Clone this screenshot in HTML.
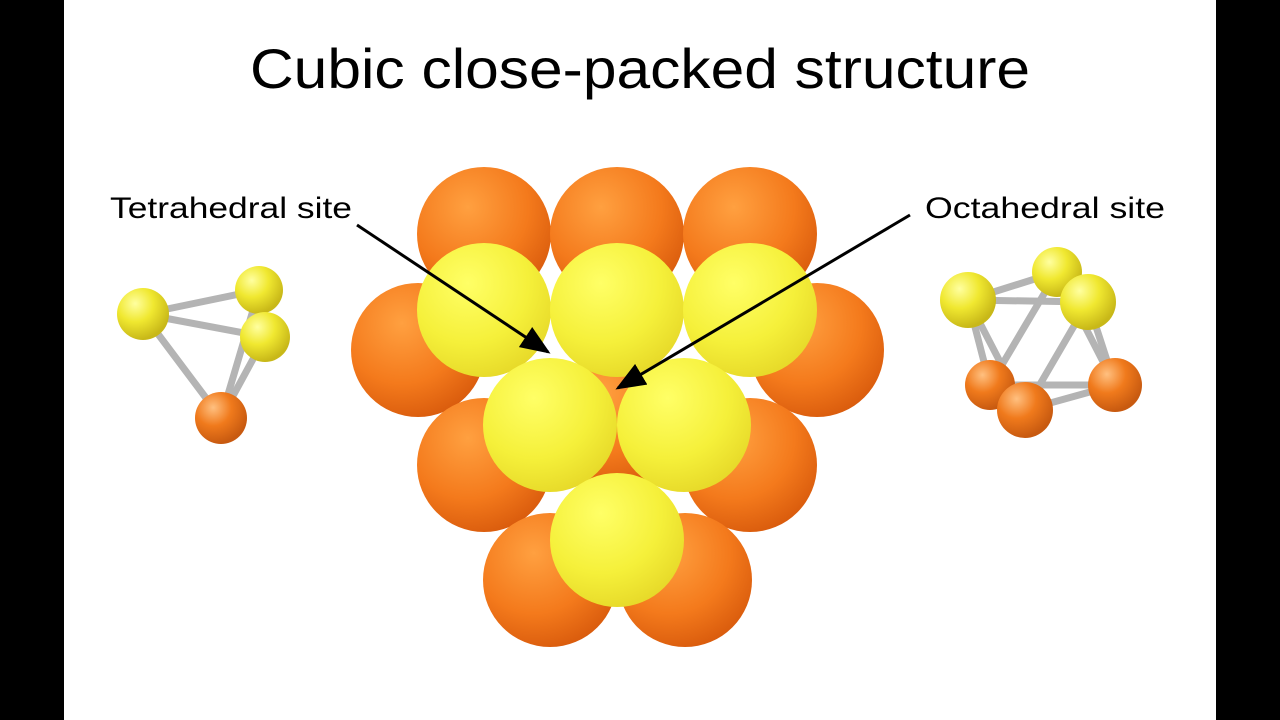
<!DOCTYPE html>
<html><head><meta charset="utf-8"><style>
html,body{margin:0;padding:0;background:#000;}
svg{display:block}
</style></head><body>
<svg width="1280" height="720" viewBox="0 0 1280 720" xmlns="http://www.w3.org/2000/svg">
<defs>
<radialGradient id="og" cx="0.38" cy="0.3" r="0.75">
<stop offset="0" stop-color="#ffa040"/><stop offset="0.6" stop-color="#f47a1c"/><stop offset="1" stop-color="#d85a0c"/></radialGradient>
<radialGradient id="yg" cx="0.38" cy="0.3" r="0.75">
<stop offset="0" stop-color="#ffff66"/><stop offset="0.6" stop-color="#f5f03a"/><stop offset="1" stop-color="#e6d828"/></radialGradient>
<radialGradient id="ogs" cx="0.35" cy="0.3" r="0.7">
<stop offset="0" stop-color="#ffc080"/><stop offset="0.5" stop-color="#f07a1c"/><stop offset="1" stop-color="#c85a10"/></radialGradient>
<radialGradient id="ygs" cx="0.35" cy="0.3" r="0.7">
<stop offset="0" stop-color="#ffffa0"/><stop offset="0.5" stop-color="#f0e830"/><stop offset="1" stop-color="#c8b818"/></radialGradient>
<marker id="ah" markerWidth="10" markerHeight="8" refX="9" refY="4" orient="auto"><path d="M0,0 L10,4 L0,8 z" fill="#000"/></marker>
</defs>
<rect x="64" y="0" width="1152" height="720" fill="#fff"/>
<text x="250" y="88" textLength="780" lengthAdjust="spacingAndGlyphs" font-family="Liberation Sans, sans-serif" font-size="56">Cubic close-packed structure</text>
<g>
<circle cx="484" cy="234" r="67" fill="url(#og)"/>
<circle cx="617" cy="234" r="67" fill="url(#og)"/>
<circle cx="750" cy="234" r="67" fill="url(#og)"/>
<circle cx="418" cy="350" r="67" fill="url(#og)"/>
<circle cx="817" cy="350" r="67" fill="url(#og)"/>
<circle cx="617" cy="420" r="67" fill="url(#og)"/>
<circle cx="484" cy="465" r="67" fill="url(#og)"/>
<circle cx="750" cy="465" r="67" fill="url(#og)"/>
<circle cx="550" cy="580" r="67" fill="url(#og)"/>
<circle cx="685" cy="580" r="67" fill="url(#og)"/>
<circle cx="484" cy="310" r="67" fill="url(#yg)"/>
<circle cx="617" cy="310" r="67" fill="url(#yg)"/>
<circle cx="750" cy="310" r="67" fill="url(#yg)"/>
<circle cx="550" cy="425" r="67" fill="url(#yg)"/>
<circle cx="684" cy="425" r="67" fill="url(#yg)"/>
<circle cx="617" cy="540" r="67" fill="url(#yg)"/>
</g>
<text x="110" y="218" textLength="242" lengthAdjust="spacingAndGlyphs" font-family="Liberation Sans, sans-serif" font-size="30">Tetrahedral site</text>
<text x="925" y="218" textLength="240" lengthAdjust="spacingAndGlyphs" font-family="Liberation Sans, sans-serif" font-size="30">Octahedral site</text>
<line x1="357" y1="225" x2="548" y2="352" stroke="#000" stroke-width="3" marker-end="url(#ah)"/>
<line x1="910" y1="215" x2="618" y2="388" stroke="#000" stroke-width="3" marker-end="url(#ah)"/>
<g stroke="#b4b4b4" stroke-width="7" stroke-linecap="round">
<line x1="143" y1="314" x2="259" y2="290"/><line x1="143" y1="314" x2="265" y2="337"/>
<line x1="143" y1="314" x2="221" y2="418"/><line x1="259" y1="290" x2="265" y2="337"/>
<line x1="259" y1="290" x2="221" y2="418"/><line x1="265" y1="337" x2="221" y2="418"/>
<circle cx="221" cy="418" r="26" fill="url(#ogs)" stroke="none"/>
<circle cx="259" cy="290" r="24" fill="url(#ygs)" stroke="none"/>
<circle cx="143" cy="314" r="26" fill="url(#ygs)" stroke="none"/>
<circle cx="265" cy="337" r="25" fill="url(#ygs)" stroke="none"/>
</g>
<g stroke="#b4b4b4" stroke-width="7" stroke-linecap="round">
<line x1="968" y1="300" x2="1057" y2="272"/><line x1="968" y1="300" x2="1088" y2="302"/><line x1="1057" y1="272" x2="1088" y2="302"/>
<line x1="990" y1="385" x2="1115" y2="385"/><line x1="1025" y1="410" x2="1115" y2="385"/><line x1="990" y1="385" x2="1025" y2="410"/>
<line x1="968" y1="300" x2="990" y2="385"/><line x1="968" y1="300" x2="1025" y2="410"/>
<line x1="1057" y1="272" x2="990" y2="385"/><line x1="1057" y1="272" x2="1115" y2="385"/>
<line x1="1088" y1="302" x2="1025" y2="410"/><line x1="1088" y1="302" x2="1115" y2="385"/>
<circle cx="990" cy="385" r="25" fill="url(#ogs)" stroke="none"/>
<circle cx="1115" cy="385" r="27" fill="url(#ogs)" stroke="none"/>
<circle cx="1025" cy="410" r="28" fill="url(#ogs)" stroke="none"/>
<circle cx="1057" cy="272" r="25" fill="url(#ygs)" stroke="none"/>
<circle cx="968" cy="300" r="28" fill="url(#ygs)" stroke="none"/>
<circle cx="1088" cy="302" r="28" fill="url(#ygs)" stroke="none"/>
</g>
</svg>
</body></html>
